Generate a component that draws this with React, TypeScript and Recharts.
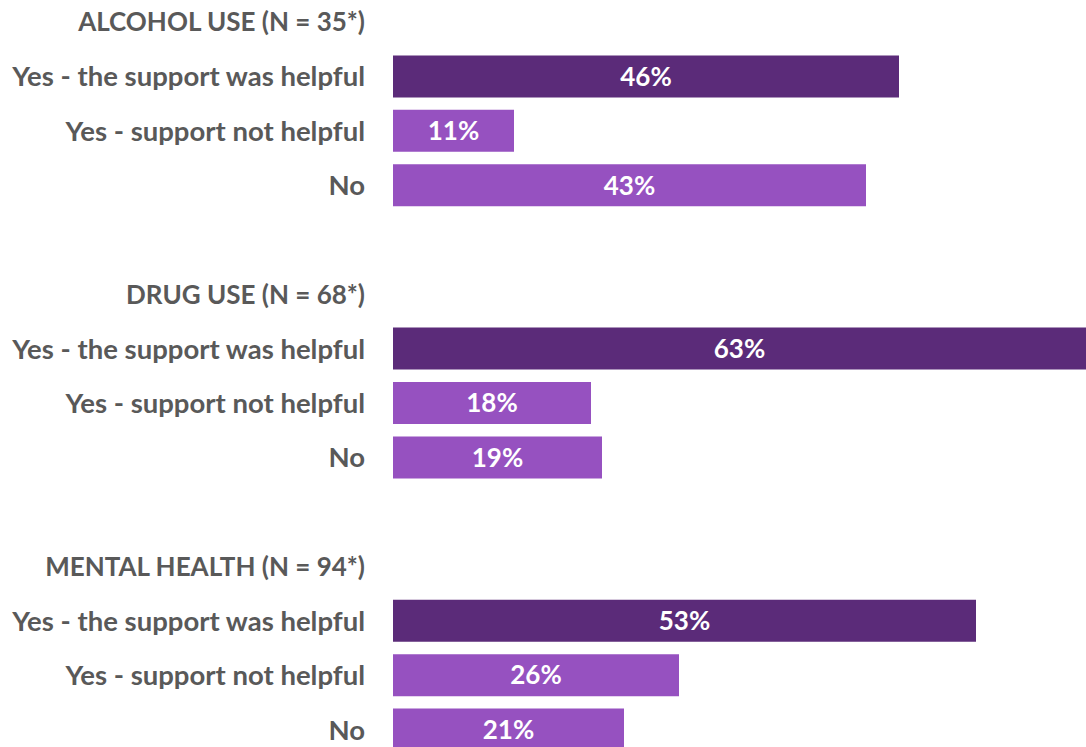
import { Bar, BarChart, Cell, LabelList, XAxis, YAxis } from "recharts";

const rowLabels = [
  "ALCOHOL USE (N = 35*)",
  "Yes - the support was helpful",
  "Yes - support not helpful",
  "No",
  "",
  "DRUG USE (N = 68*)",
  "Yes - the support was helpful",
  "Yes - support not helpful",
  "No",
  "",
  "MENTAL HEALTH (N = 94*)",
  "Yes - the support was helpful",
  "Yes - support not helpful",
  "No",
];

const rowValues: (number | null)[] = [null, 46, 11, 43, null, null, 63, 18, 19, null, null, 53, 26, 21];

const darkPurple = "#5b2b79";
const lightPurple = "#9651c0";
const textGrey = "#595959";
const font = "Lato, 'Open Sans', sans-serif";

const data = rowLabels.map((label, i) => ({
  id: `r${i}`,
  label,
  value: rowValues[i],
  helpful: label.startsWith("Yes - the"),
  heading: label.includes("(N ="),
}));

// headings are all caps, Lato caps run wider than the original font so shrink them a bit
function RowTick({ x, y, payload }: any) {
  const row = data.find((d) => d.id === payload.value);
  if (!row || !row.label) return null;
  return (
    <text
      x={x}
      y={y}
      dy="0.355em"
      textAnchor="end"
      fill={textGrey}
      fontFamily={font}
      fontWeight={700}
      fontSize={row.heading ? 26 : 27.5}
    >
      {row.label}
    </text>
  );
}

export default function App() {
  return (
    <div style={{ position: "absolute", top: -5, left: 0, fontFamily: font }}>
      <BarChart
        width={1086}
        height={762}
        data={data}
        layout="vertical"
        margin={{ top: 0, right: 0, bottom: 0, left: 0 }}
        barSize={42}
      >
        <XAxis type="number" domain={[0, 63]} hide />
        <YAxis
          type="category"
          dataKey="id"
          width={393}
          axisLine={false}
          tickLine={false}
          tickSize={0}
          tickMargin={28}
          tick={<RowTick />}
          interval={0}
        />
        <Bar dataKey="value" isAnimationActive={false}>
          {data.map((d) => (
            <Cell key={d.id} fill={d.helpful ? darkPurple : lightPurple} />
          ))}
          <LabelList
            dataKey="value"
            position="center"
            formatter={(v: any) => (v == null ? "" : `${v}%`)}
            style={{ fontSize: 26, fontWeight: 700, fill: "#ffffff", fontFamily: font }}
          />
        </Bar>
      </BarChart>
    </div>
  );
}
